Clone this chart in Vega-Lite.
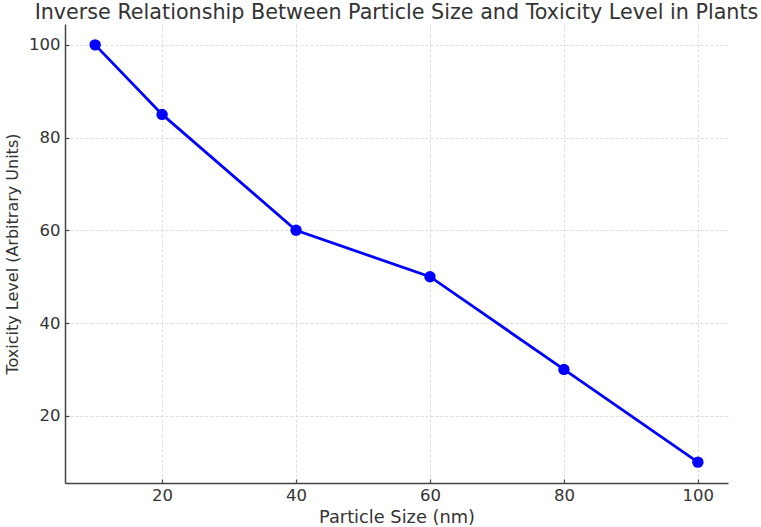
{
  "$schema": "https://vega.github.io/schema/vega-lite/v6.json",
  "autosize": "none",
  "width": 663,
  "height": 459,
  "padding": {"left": 65, "top": 24, "right": 33, "bottom": 44},
  "background": "white",
  "title": {
    "text": "Inverse Relationship Between Particle Size and Toxicity Level in Plants",
    "font": "DejaVu Sans",
    "fontSize": 20.7,
    "fontWeight": "normal",
    "color": "#333333",
    "anchor": "middle",
    "baseline": "bottom",
    "offset": 3,
    "dy": 23
  },
  "config": {
    "view": {"stroke": null},
    "axis": {
      "labelFont": "DejaVu Sans",
      "titleFont": "DejaVu Sans",
      "labelFontSize": 16.5,
      "titleFontSize": 17.8,
      "titleFontWeight": "normal",
      "labelColor": "#333333",
      "titleColor": "#333333",
      "domainColor": "#444444",
      "domainWidth": 1.5,
      "tickColor": "#444444",
      "tickWidth": 1.2,
      "tickSize": -4,
      "gridColor": "#d4d4d4",
      "gridDash": [3, 2],
      "gridWidth": 0.8
    }
  },
  "data": {
    "values": [
      {"size": 10, "toxicity": 100},
      {"size": 20, "toxicity": 85},
      {"size": 40, "toxicity": 60},
      {"size": 60, "toxicity": 50},
      {"size": 80, "toxicity": 30},
      {"size": 100, "toxicity": 10}
    ]
  },
  "mark": {
    "type": "line",
    "color": "#0000ff",
    "strokeWidth": 2.8,
    "point": {"filled": true, "color": "#0000ff", "size": 130, "opacity": 1}
  },
  "encoding": {
    "x": {
      "field": "size",
      "type": "quantitative",
      "title": "Particle Size (nm)",
      "scale": {"domain": [5.5, 104.5], "nice": false, "zero": false},
      "axis": {"values": [20, 40, 60, 80, 100], "labelPadding": 8, "titlePadding": 5}
    },
    "y": {
      "field": "toxicity",
      "type": "quantitative",
      "title": "Toxicity Level (Arbitrary Units)",
      "scale": {"domain": [5.5, 104.5], "nice": false, "zero": false},
      "axis": {"values": [20, 40, 60, 80, 100], "labelPadding": 9, "titlePadding": 8, "titleFontSize": 16}
    }
  }
}
